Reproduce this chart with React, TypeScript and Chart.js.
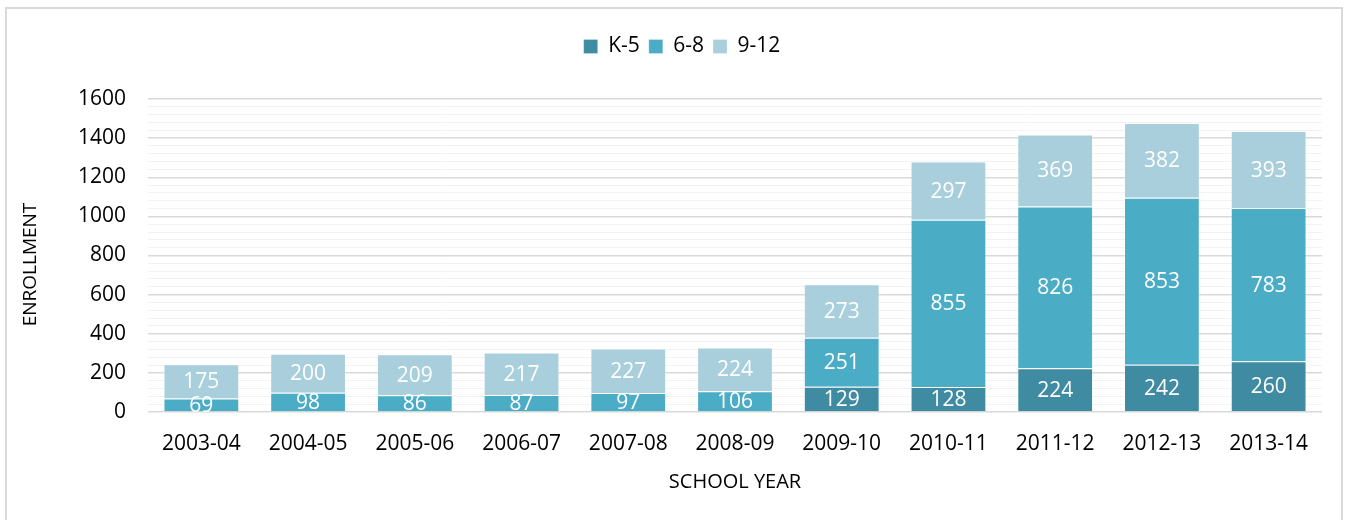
import React, { useEffect, useRef } from "react";
import { Chart, registerables } from "chart.js";

Chart.register(...registerables);

const categories = ["2003-04", "2004-05", "2005-06", "2006-07", "2007-08", "2008-09", "2009-10", "2010-11", "2011-12", "2012-13", "2013-14"];
const k5 = [0, 0, 0, 0, 0, 0, 129, 128, 224, 242, 260];
const g68 = [69, 98, 86, 87, 97, 106, 251, 855, 826, 853, 783];
const g912 = [175, 200, 209, 217, 227, 224, 273, 297, 369, 382, 393];
const seriesNames = ["K-5", "6-8", "9-12"];
const seriesColors = ["#3f8ca2", "#4bacc6", "#a9cfdc"];
const yTickMax = 1600;
const yMajorStep = 200;
const yMinorStep = 40;
const yTitle = "ENROLLMENT";
const xTitle = "SCHOOL YEAR";

const FONT = "'Open Sans', sans-serif";

const dataLabelPlugin = {
  id: "dataLabels",
  afterDatasetsDraw(chart: any) {
    const ctx = chart.ctx;
    ctx.save();
    ctx.fillStyle = "#ffffff";
    ctx.font = `21px ${FONT}`;
    ctx.textAlign = "center";
    ctx.textBaseline = "middle";
    chart.data.datasets.forEach((ds: any, di: number) => {
      const meta = chart.getDatasetMeta(di);
      meta.data.forEach((bar: any, i: number) => {
        const v = ds.data[i];
        if (!v) return;
        const y = (bar.y + bar.base) / 2;
        ctx.fillText(String(v), bar.x, y + 1);
      });
    });
    ctx.restore();
  },
};

const yTitlePlugin = {
  id: "yTitle",
  afterDraw(chart: any) {
    const ctx = chart.ctx;
    const area = chart.chartArea;
    ctx.save();
    ctx.translate(31, (area.top + area.bottom) / 2 + 9);
    ctx.rotate(-Math.PI / 2);
    ctx.fillStyle = "#000000";
    ctx.font = `19px ${FONT}`;
    ctx.textAlign = "center";
    ctx.textBaseline = "middle";
    ctx.fillText(yTitle, 0, 0);
    ctx.restore();
  },
};

const legendAdjustPlugin = {
  id: "legendAdjust",
  afterInit(chart: any) {
    const lg = chart.legend;
    if (!lg || lg.__patched) return;
    lg.__patched = true;
    const fit = lg.fit.bind(lg);
    lg.fit = () => {
      fit();
      lg.height += 32;
    };
    const draw = lg.draw.bind(lg);
    lg.draw = () => {
      const ctx = chart.ctx;
      ctx.save();
      ctx.translate(14, 0);
      draw();
      ctx.restore();
    };
  },
};

export default function App() {
  const ref = useRef<HTMLCanvasElement>(null);
  useEffect(() => {
    document.body.style.margin = "0";
    const chart = new Chart(ref.current!, {
      type: "bar",
      data: {
        labels: categories,
        datasets: [k5, g68, g912].map((d, i) => ({
          label: seriesNames[i],
          data: d,
          backgroundColor: seriesColors[i],
          borderColor: "rgba(255,255,255,0.25)",
          borderWidth: 1,
          barPercentage: 0.71,
          categoryPercentage: 1,
        })),
      },
      options: {
        responsive: false,
        animation: false,
        layout: { padding: { left: 14, right: 29, top: 27, bottom: 0 } },
        plugins: {
          legend: {
            position: "top",
            labels: {
              font: { family: FONT, size: 21 },
              color: "#000000",
              boxWidth: 14,
              boxHeight: 14,
              padding: 9,
            },
          },
          tooltip: { enabled: false },
        },
        scales: {
          x: {
            stacked: true,
            grid: { display: false },
            border: { display: false },
            ticks: { font: { family: FONT, size: 21 }, color: "#000000", padding: 11, maxRotation: 0 },
            title: { display: true, text: xTitle, font: { family: FONT, size: 20 }, color: "#000000", padding: { top: 0, bottom: 26 } },
            afterFit: (s: any) => { s.height = 520 - 412; },
          },
          y: {
            stacked: true,
            min: 0,
            max: yTickMax,
            grid: {
              color: (c: any) => (c.tick && c.tick.value % yMajorStep === 0 ? "#d9d9d9" : "#f2f2f2"),
              lineWidth: (c: any) => (c.tick && c.tick.value % yMajorStep === 0 ? 1.5 : 1),
              drawTicks: false,
            },
            border: { display: false },
            ticks: {
              stepSize: yMinorStep,
              autoSkip: false,
              font: { family: FONT, size: 21 },
              color: "#000000",
              padding: 22,
              callback: (v: any) => (Number(v) % yMajorStep === 0 ? String(v) : ""),
            },
            title: { display: false },
            afterFit: (s: any) => { s.width = 148 - 14; },
          },
        },
      },
      plugins: [legendAdjustPlugin, dataLabelPlugin, yTitlePlugin],
    });
    return () => chart.destroy();
  }, []);
  return (
    <div style={{ position: "fixed", left: 0, top: 0, width: 1351, height: 520, overflow: "hidden", background: "#fff" }}>
      <div style={{ position: "absolute", left: 5, top: 7, width: 1338, height: 540, border: "2px solid #d9d9d9", boxSizing: "border-box" }} />
      <canvas ref={ref} width={1351} height={520} style={{ position: "absolute", left: 0, top: 0 }} />
    </div>
  );
}
